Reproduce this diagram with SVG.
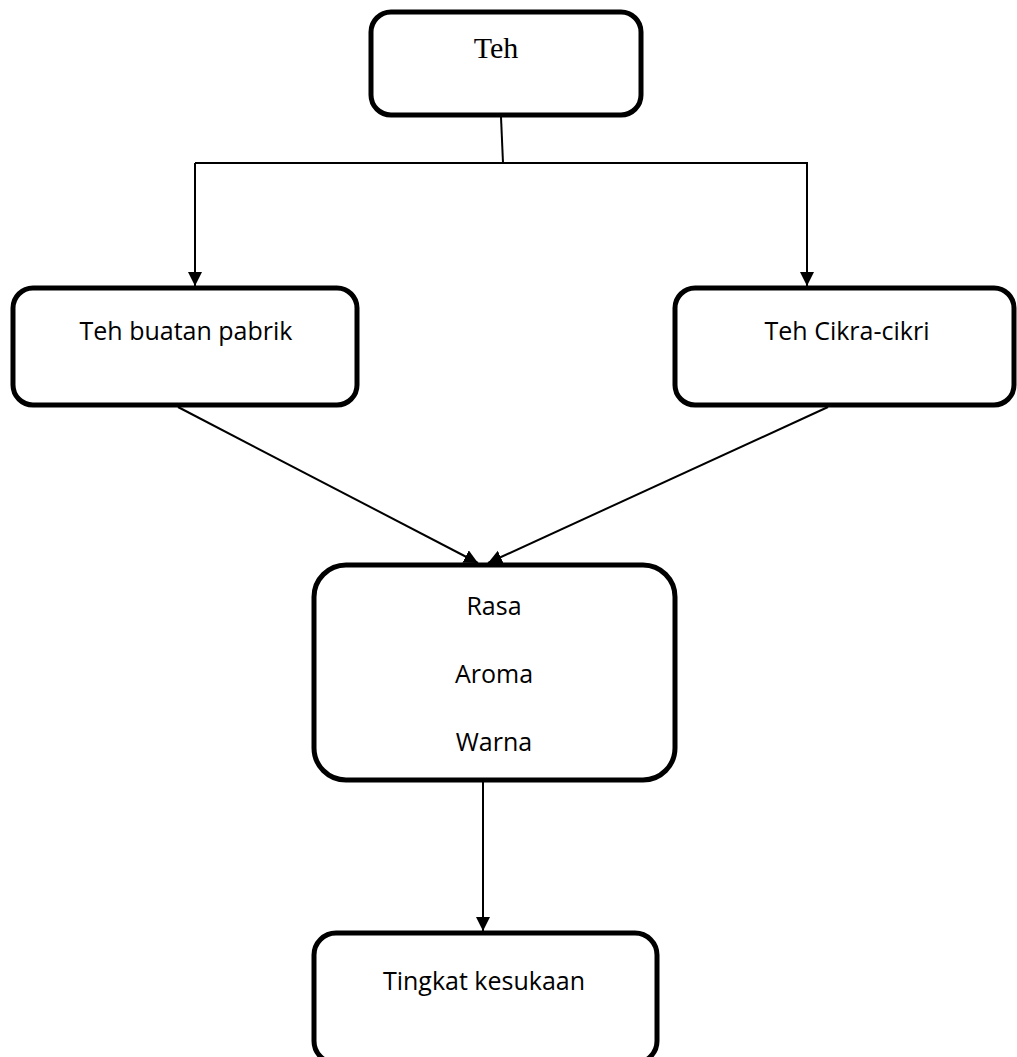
<svg xmlns="http://www.w3.org/2000/svg" width="1017" height="1057" viewBox="0 0 1017 1057">
  <style>
    .box { fill: #ffffff; stroke: #000000; stroke-width: 5; }
    .lbl { font-family: "Open Sans", "Noto Sans", sans-serif; font-size: 25px; fill: #000000; text-anchor: middle; }
    .ser { font-family: "Liberation Serif", "Times New Roman", serif; font-size: 30px; fill: #000000; text-anchor: middle; }
    .conn { fill: none; stroke: #000000; stroke-width: 2; }
  </style>
  <defs>
    <marker id="arrow" markerUnits="userSpaceOnUse" markerWidth="16" markerHeight="16" refX="14" refY="7" orient="auto">
      <path d="M0,0 L14,7 L0,14 z" fill="#000000"/>
    </marker>
  </defs>
  <rect width="1017" height="1057" fill="#ffffff"/>
  <g id="connectors">
    <line class="conn" x1="501" y1="117" x2="503" y2="163"/>
    <line class="conn" x1="195" y1="163" x2="808" y2="163"/>
    <line class="conn" x1="195" y1="163" x2="195" y2="286" marker-end="url(#arrow)"/>
    <line class="conn" x1="807" y1="163" x2="807" y2="286" marker-end="url(#arrow)"/>
    <line class="conn" x1="178" y1="407" x2="478" y2="563" marker-end="url(#arrow)"/>
    <line class="conn" x1="828" y1="407" x2="488" y2="563" marker-end="url(#arrow)"/>
    <line class="conn" x1="483" y1="782" x2="483" y2="931" marker-end="url(#arrow)"/>
  </g>
  <g id="node-teh">
    <rect class="box" x="371" y="12" width="270" height="103" rx="20" ry="20"/>
    <text class="ser" x="496" y="58">Teh</text>
  </g>
  <g id="node-pabrik">
    <rect class="box" x="13" y="288" width="344" height="117" rx="20" ry="20"/>
    <text class="lbl" x="186" y="340">Teh buatan pabrik</text>
  </g>
  <g id="node-cikra">
    <rect class="box" x="675" y="288" width="339" height="117" rx="20" ry="20"/>
    <text class="lbl" x="847" y="340">Teh Cikra-cikri</text>
  </g>
  <g id="node-atribut">
    <rect class="box" x="314" y="565" width="361" height="215" rx="32" ry="32"/>
    <text class="lbl" x="494" y="615">Rasa</text>
    <text class="lbl" x="494" y="683">Aroma</text>
    <text class="lbl" x="494" y="751">Warna</text>
  </g>
  <g id="node-kesukaan">
    <rect class="box" x="314" y="933" width="343" height="130" rx="22" ry="22"/>
    <text class="lbl" x="484" y="990">Tingkat kesukaan</text>
  </g>
</svg>
